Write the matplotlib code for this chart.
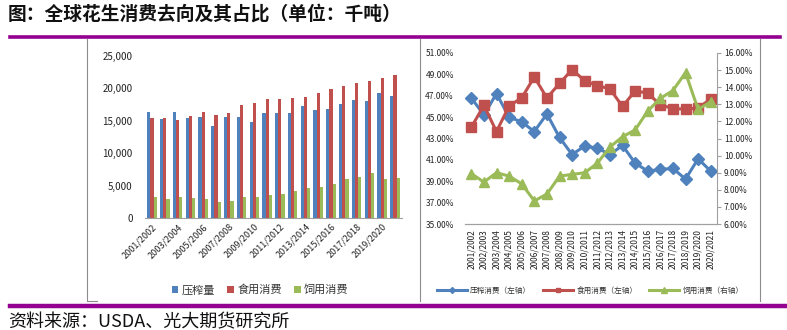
import matplotlib

matplotlib.use("Agg")
import matplotlib.pyplot as plt
import numpy as np
from matplotlib.lines import Line2D
from matplotlib.ticker import FuncFormatter

plt.rcParams["font.family"] = ["Noto Sans CJK SC", "DejaVu Sans"]

# marketing years
SEASONS = [
    "2001/2002", "2002/2003", "2003/2004", "2004/2005", "2005/2006",
    "2006/2007", "2007/2008", "2008/2009", "2009/2010", "2010/2011",
    "2011/2012", "2012/2013", "2013/2014", "2014/2015", "2015/2016",
    "2016/2017", "2017/2018", "2018/2019", "2019/2020", "2020/2021",
]

# left panel: volumes, thousand tonnes
CRUSH = [16400, 15300, 16400, 15400, 15600, 14200, 15600, 15600, 14800, 16200,
         16200, 16200, 17300, 16650, 16800, 17600, 18200, 18000, 19300, 18800]
FOOD = [15400, 15400, 15100, 15700, 16400, 15900, 16200, 17400, 17800, 18350,
        18350, 18500, 18650, 19300, 19850, 20300, 20800, 21100, 21600, 22100]
FEED = [3200, 2900, 3200, 3050, 2900, 2400, 2700, 3200, 3200, 3500,
        3650, 4100, 4600, 4800, 5250, 6000, 6350, 6900, 6000, 6150]

# right panel: shares, percent
CRUSH_SHARE = [46.8, 45.2, 47.2, 45.0, 44.55, 43.65, 45.3, 43.1, 41.5, 42.3,
               42.1, 41.5, 42.35, 40.7, 39.95, 40.1, 40.2, 39.2, 41.1, 39.95]
FOOD_SHARE = [44.05, 46.1, 43.65, 46.05, 46.8, 48.75, 46.8, 48.15, 49.45, 48.4,
              47.95, 47.65, 46.0, 47.45, 47.25, 46.15, 45.8, 45.75, 45.85, 46.7]
FEED_SHARE = [8.95, 8.45, 9.0, 8.8, 8.35, 7.35, 7.75, 8.8, 8.9, 9.0,
              9.55, 10.5, 11.1, 11.5, 12.6, 13.35, 13.8, 14.85, 12.7, 13.15]

BLUE = "#4F81BD"
RED = "#C0504D"
GREEN = "#9BBB59"
PURPLE = "#94008F"
GREY = "#8C8C8C"

W, H = 787, 330


def fx(px):
    return px / W


def fy(py):
    return 1 - py / H


fig = plt.figure(figsize=(7.87, 3.30), dpi=100)

# header / footer
fig.text(fx(8), fy(14), "图：全球花生消费去向及其占比（单位：千吨）",
         fontsize=13.5, fontweight="bold", va="center", ha="left", color="#111111")
fig.add_artist(Line2D([fx(10), fx(780)], [fy(37), fy(37)], color=PURPLE, lw=2.6))
fig.add_artist(Line2D([fx(10), fx(787)], [fy(306), fy(306)], color=PURPLE, lw=3.2))
fig.text(fx(8), fy(322), "资料来源：USDA、光大期货研究所",
         fontsize=13, fontweight="medium", va="center", ha="left", color="#111111")

# panel borders
fig.add_artist(Line2D([fx(87), fx(87), fx(97)], [fy(39), fy(301), fy(301)], color=GREY, lw=0.8))
fig.add_artist(Line2D([fx(420), fx(420)], [fy(39), fy(301)], color=GREY, lw=0.8))
fig.add_artist(Line2D([fx(760), fx(760)], [fy(39), fy(301)], color=GREY, lw=0.8))

# ---- left panel: bars
ax = fig.add_axes([fx(145), fy(218), fx(402) - fx(145), fy(56) - fy(218)])
x = np.arange(len(SEASONS))
bw = 0.25
ax.bar(x - bw, CRUSH, bw, color=BLUE, label="压榨量")
ax.bar(x, FOOD, bw, color=RED, label="食用消费")
ax.bar(x + bw, FEED, bw, color=GREEN, label="饲用消费")
ax.set_xlim(-0.55, len(SEASONS) - 0.45)
ax.set_ylim(0, 25000)
ax.set_yticks(np.arange(0, 25001, 5000))
ax.yaxis.set_major_formatter(FuncFormatter(lambda v, _: f"{int(v):,}"))
ax.set_xticks(x[::2])
ax.set_xticklabels(SEASONS[::2], rotation=45, ha="right", rotation_mode="anchor")
for side in ("top", "right", "left"):
    ax.spines[side].set_visible(False)
ax.spines["bottom"].set_color("#A0A0A0")
ax.tick_params(axis="both", length=0, labelsize=7, colors="#222222")
ax.tick_params(axis="x", labelsize=6.5, pad=3)
ax.tick_params(axis="y", pad=9)
ax.legend(loc="center", bbox_to_anchor=(fx(260), fy(290)), bbox_transform=fig.transFigure,
          ncol=3, frameon=False, fontsize=8, handlelength=0.6, handleheight=0.6,
          handletextpad=0.3, columnspacing=1.1, labelcolor="#333333")

# ---- right panel: shares
axl = fig.add_axes([fx(465), fy(224), fx(717) - fx(465), fy(53) - fy(224)])
axr = axl.twinx()
axl.plot(x, CRUSH_SHARE, color=BLUE, lw=2.2, marker="D", ms=6, label="压榨消费（左轴）")
axl.plot(x, FOOD_SHARE, color=RED, lw=2.2, marker="s", ms=7, label="食用消费（左轴）")
axr.plot(x, FEED_SHARE, color=GREEN, lw=2.2, marker="^", ms=7.5, label="饲用消费（右轴）")
axl.set_xlim(-0.5, len(SEASONS) - 0.5)
axl.set_ylim(35, 51)
axl.set_yticks(np.arange(35, 51.1, 2))
axr.set_ylim(6, 16)
axr.set_yticks(np.arange(6, 16.1, 1))
pct = FuncFormatter(lambda v, _: f"{v:.2f}%")
axl.yaxis.set_major_formatter(pct)
axr.yaxis.set_major_formatter(pct)
axl.set_xticks(x)
axl.set_xticklabels(SEASONS, rotation=90)
for a in (axl, axr):
    for side in ("top", "left"):
        a.spines[side].set_visible(False)
    a.spines["bottom"].set_color("#A0A0A0")
axl.spines["right"].set_visible(False)
axr.spines["right"].set_color("#A0A0A0")
axl.tick_params(axis="both", length=0, labelsize=6, colors="#222222")
axl.tick_params(axis="y", pad=8)
axr.tick_params(axis="y", length=3, labelsize=6, colors="#222222", pad=2)
axr.tick_params(axis="y", color="#A0A0A0")

handles = axl.get_lines() + axr.get_lines()
fig.legend(handles, [h.get_label() for h in handles], loc="center",
           bbox_to_anchor=(fx(590), fy(291)), ncol=3, frameon=False, fontsize=5.5,
           handlelength=4.0, handletextpad=0.4, columnspacing=1.5, markerscale=0.5,
           labelcolor="#333333")

fig.savefig("out.png", dpi=100, facecolor="white")
